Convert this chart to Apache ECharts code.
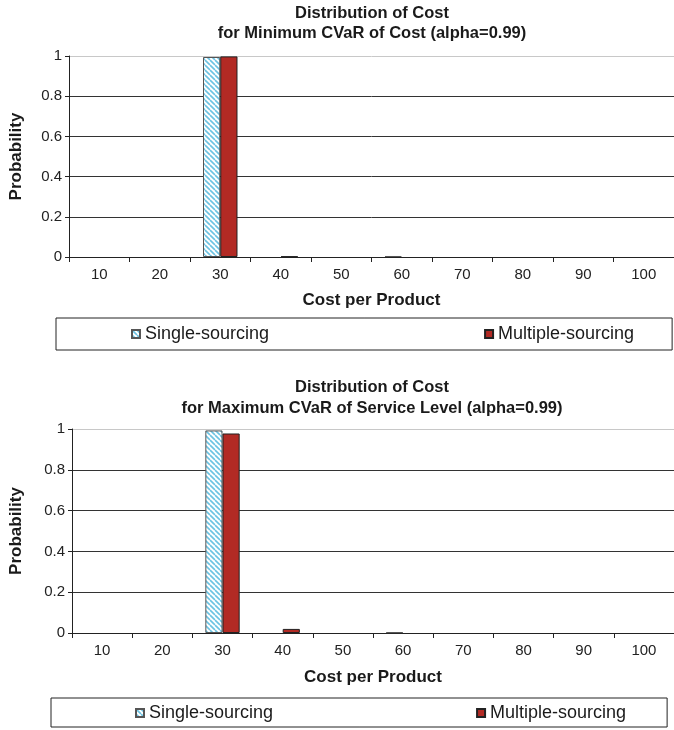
<!DOCTYPE html>
<html>
<head>
<meta charset="utf-8">
<script src="https://cdn.jsdelivr.net/npm/echarts@6/dist/echarts.min.js"></script>
<style>
  html, body { margin: 0; padding: 0; background: #fff; }
  .panel { width: 674px; height: 365px; }
</style>
</head>
<body>
<div id="top" class="panel"></div>
<div id="bottom" class="panel"></div>
<script>
// Cost buckets (cost per product)
const costCategories = ['10', '20', '30', '40', '50', '60', '70', '80', '90', '100'];

// Minimum CVaR of cost
const minCostSingle   = [0, 0, 0.995, 0, 0, 0.005, 0, 0, 0, 0];
const minCostMultiple = [0, 0, 0.998, 0.003, 0, 0, 0, 0, 0, 0];

// Maximum CVaR of service level
const maxServiceSingle   = [0, 0, 0.993, 0, 0, 0.004, 0, 0, 0, 0];
const maxServiceMultiple = [0, 0, 0.978, 0.02, 0, 0, 0, 0, 0, 0];

const seriesNames = ['Single-sourcing', 'Multiple-sourcing'];
const yTicks = [0, 0.2, 0.4, 0.6, 0.8, 1];

const FONT = '"Liberation Sans", Arial, sans-serif';

// empty buckets get no bar at all (no zero-height outline)
const asBars = arr => arr.map(v => (v === 0 ? '-' : v));

// light-blue diagonal hatch used for the single-sourcing bars
function hatchPattern() {
  const s = 5;
  const c = document.createElement('canvas');
  c.width = s; c.height = s;
  const ctx = c.getContext('2d');
  ctx.fillStyle = '#ffffff';
  ctx.fillRect(0, 0, s, s);
  ctx.strokeStyle = '#6cc3e2';
  ctx.lineWidth = 1.6;
  for (const o of [-s, 0, s]) {
    ctx.beginPath();
    ctx.moveTo(o, 0);
    ctx.lineTo(o + s, s);
    ctx.stroke();
  }
  return c;
}
const hatch = hatchPattern();

function buildOption(cfg) {
  return {
    animation: false,
    backgroundColor: '#fff',
    title: {
      text: cfg.title,
      left: 367, textAlign: 'center',
      top: cfg.titleTop,
      textStyle: { fontFamily: FONT, fontSize: 16.5, fontWeight: 'bold', color: '#1a1a1a', lineHeight: cfg.titleLineHeight }
    },
    legend: {
      data: seriesNames,
      left: cfg.legendLeft, top: cfg.legendTop,
      width: 660,
      padding: cfg.legendPadding,
      itemGap: cfg.legendGap,
      itemWidth: 8, itemHeight: 8,
      icon: 'rect',
      borderColor: '#222', borderWidth: 1, borderRadius: 0,
      textStyle: { fontFamily: FONT, fontSize: 18, color: '#1a1a1a', lineHeight: 20 }
    },
    grid: { left: cfg.gridLeft, right: cfg.gridRight, top: cfg.gridTop, bottom: cfg.gridBottom, containLabel: false },
    xAxis: {
      type: 'category',
      data: costCategories,
      name: 'Cost per Product',
      nameLocation: 'middle',
      nameGap: cfg.xNameGap,
      nameTextStyle: { fontFamily: FONT, fontSize: 17, fontWeight: 'bold', color: '#1a1a1a' },
      axisLine: { lineStyle: { color: '#222', width: 1 } },
      axisTick: { show: true, length: 5, lineStyle: { color: '#222' } },
      axisLabel: { fontFamily: FONT, fontSize: 15, color: '#222', margin: 10 }
    },
    yAxis: {
      type: 'value',
      min: yTicks[0], max: yTicks[yTicks.length - 1], interval: 0.2,
      name: 'Probability',
      nameLocation: 'middle',
      nameGap: cfg.yNameGap,
      nameRotate: 90,
      nameTextStyle: { fontFamily: FONT, fontSize: 17, fontWeight: 'bold', color: '#1a1a1a' },
      axisLine: { show: true, lineStyle: { color: '#222', width: 1 } },
      axisTick: { show: true, length: 4, lineStyle: { color: '#222' } },
      axisLabel: { fontFamily: FONT, fontSize: 15, color: '#222', margin: 7 },
      splitLine: { show: true, lineStyle: { color: ['#222', '#333', '#333', '#333', '#333', '#c8c8c8'], width: 1 } }
    },
    series: [
      {
        name: seriesNames[0], type: 'bar', data: asBars(cfg.single),
        barGap: '0%', barCategoryGap: '43%',
        itemStyle: { color: { image: hatch, repeat: 'repeat' }, borderColor: '#555', borderWidth: 1 }
      },
      {
        name: seriesNames[1], type: 'bar', data: asBars(cfg.multiple),
        itemStyle: { color: '#b22a24', borderColor: '#222', borderWidth: 1 }
      }
    ]
  };
}

const topChart = echarts.init(document.getElementById('top'), null, { renderer: 'canvas' });
topChart.setOption(buildOption({
  title: 'Distribution of Cost\nfor Minimum CVaR of Cost (alpha=0.99)',
  titleTop: -2, titleLineHeight: 20,
  gridLeft: 63, gridRight: -4, gridTop: 56, gridBottom: 108,
  xNameGap: 35, yNameGap: 44,
  single: minCostSingle, multiple: minCostMultiple,
  legendLeft: 56, legendTop: 318,
  legendPadding: [6, 38, 6, 75], legendGap: 215
}));

const bottomChart = echarts.init(document.getElementById('bottom'), null, { renderer: 'canvas' });
bottomChart.setOption(buildOption({
  title: 'Distribution of Cost\nfor Maximum CVaR of Service Level (alpha=0.99)',
  titleTop: 7, titleLineHeight: 21,
  gridLeft: 67, gridRight: -7, gridTop: 64, gridBottom: 97,
  xNameGap: 36, yNameGap: 47,
  single: maxServiceSingle, multiple: maxServiceMultiple,
  legendLeft: 51, legendTop: 333,
  legendPadding: [5, 41, 4, 84], legendGap: 203
}));
</script>
</body>
</html>
